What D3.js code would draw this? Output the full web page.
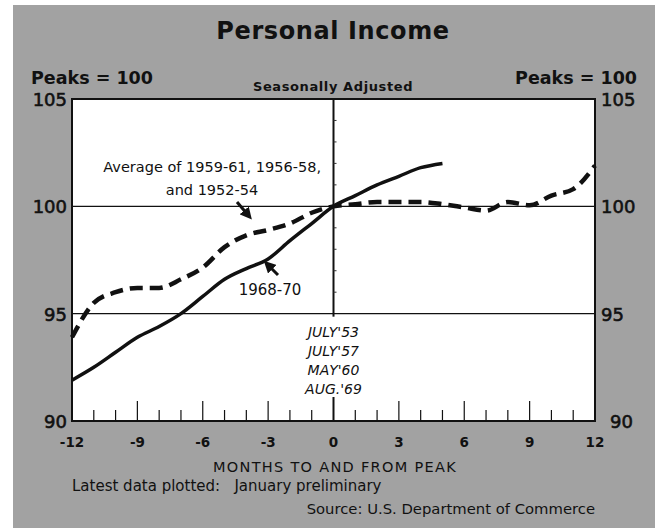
<!DOCTYPE html>
<html>
<head>
<meta charset="utf-8">
<script src="https://cdn.jsdelivr.net/npm/d3@7"></script>
<style>
  body { margin: 0; background: #fff; }
  svg { display: block; }
  text { font-family: "DejaVu Sans", sans-serif; fill: #111; }
</style>
</head>
<body>
<div id="chart"></div>
<script>
// months to and from peak
var months = [-12,-11,-10,-9,-8,-7,-6,-5,-4,-3,-2,-1,0,1,2,3,4,5,6,7,8,9,10,11,12];
// average of 1959-61, 1956-58 and 1952-54 (dashed)
var avgValues = [93.9,95.5,96.0,96.2,96.2,96.6,97.15,98.1,98.65,98.9,99.2,99.7,100,
                 100.1,100.2,100.2,100.2,100.1,99.95,99.8,100.2,100.05,100.5,100.8,101.9];
// 1968-70 (solid), ends 5 months after peak
var recentMonths = [-12,-11,-10,-9,-8,-7,-6,-5,-4,-3,-2,-1,0,1,2,3,4,5];
var recentValues = [91.9,92.5,93.2,93.9,94.4,95.0,95.8,96.6,97.1,97.55,98.4,99.2,100,
                    100.5,101.0,101.4,101.8,102.0];

var xTicks = [-12,-9,-6,-3,0,3,6,9,12];
var yTicks = [90,95,100,105];
var peakDates = ["JULY'53","JULY'57","MAY'60","AUG.'69"];

var W = 660, H = 531;
var plot = {left: 72, right: 595, top: 99, bottom: 421};

var x = d3.scaleLinear().domain([-12,12]).range([plot.left, plot.right]);
var y = d3.scaleLinear().domain([90,105]).range([plot.bottom, plot.top]);

var svg = d3.select("#chart").append("svg")
  .attr("width", W)
  .attr("height", H);

// gray panel
svg.append("rect")
  .attr("x", 13).attr("y", 5)
  .attr("width", 642).attr("height", 523)
  .attr("fill", "#a2a2a2");

// white plot area
svg.append("rect")
  .attr("x", plot.left).attr("y", plot.top)
  .attr("width", plot.right - plot.left).attr("height", plot.bottom - plot.top)
  .attr("fill", "#fff")
  .attr("stroke", "#111")
  .attr("stroke-width", 2);

// title and headers
svg.append("text")
  .attr("x", 333).attr("y", 39)
  .attr("text-anchor", "middle")
  .style("font-size", "24px").style("font-weight", "bold")
  .style("letter-spacing", "0.6px")
  .text("Personal Income");

svg.append("text")
  .attr("x", 31).attr("y", 84)
  .style("font-size", "17.5px").style("font-weight", "bold")
  .text("Peaks = 100");

svg.append("text")
  .attr("x", 637).attr("y", 84)
  .attr("text-anchor", "end")
  .style("font-size", "17.5px").style("font-weight", "bold")
  .text("Peaks = 100");

svg.append("text")
  .attr("x", 333).attr("y", 91)
  .attr("text-anchor", "middle")
  .style("font-size", "13px").style("font-weight", "bold")
  .style("letter-spacing", "0.6px")
  .text("Seasonally Adjusted");

// gridlines at 100 and 95
svg.append("g").selectAll("line")
  .data([95,100])
  .enter().append("line")
  .attr("x1", plot.left).attr("x2", plot.right)
  .attr("y1", function(d){ return y(d); })
  .attr("y2", function(d){ return y(d); })
  .attr("stroke", "#111").attr("stroke-width", 1.2);

// vertical line at the peak
svg.append("line")
  .attr("x1", x(0)).attr("x2", x(0))
  .attr("y1", plot.top).attr("y2", y(95) + 3)
  .attr("stroke", "#111").attr("stroke-width", 2);

// small ticks on the peak line
svg.append("g").selectAll("line")
  .data(d3.range(96,105))
  .enter().append("line")
  .attr("x1", x(0)).attr("x2", x(0) + 3)
  .attr("y1", function(d){ return y(d); })
  .attr("y2", function(d){ return y(d); })
  .attr("stroke", "#333").attr("stroke-width", 1);

// month ticks along the bottom
svg.append("g").selectAll("line")
  .data(months.filter(function(d){ return d > -12 && d < 12; }))
  .enter().append("line")
  .attr("x1", function(d){ return x(d); })
  .attr("x2", function(d){ return x(d); })
  .attr("y1", plot.bottom)
  .attr("y2", function(d){
    if (d === 0) return plot.bottom - 24;
    return d % 3 === 0 ? plot.bottom - 20 : plot.bottom - 11;
  })
  .attr("stroke", "#111")
  .attr("stroke-width", function(d){ return d === 0 ? 2 : 1.2; });

// y labels, both sides
var ylab = svg.append("g")
  .style("font-size", "18px")
  .style("stroke", "#111").style("stroke-width", "0.6px");
ylab.selectAll("text.l")
  .data(yTicks)
  .enter().append("text")
  .attr("class", "l")
  .attr("x", 67)
  .attr("y", function(d){ return y(d); })
  .attr("dy", "0.38em")
  .attr("text-anchor", "end")
  .text(function(d){ return d; });
ylab.selectAll("text.r")
  .data(yTicks)
  .enter().append("text")
  .attr("class", "r")
  .attr("x", function(d){ return d === 90 ? 610 : 601; })
  .attr("y", function(d){ return y(d); })
  .attr("dy", "0.38em")
  .text(function(d){ return d; });

// x tick labels
svg.append("g").selectAll("text")
  .data(xTicks)
  .enter().append("text")
  .attr("x", function(d){ return x(d); })
  .attr("y", 447)
  .attr("text-anchor", "middle")
  .style("font-size", "13.5px").style("font-weight", "bold")
  .text(function(d){ return d; });

svg.append("text")
  .attr("x", 335).attr("y", 472)
  .attr("text-anchor", "middle")
  .style("font-size", "14.5px")
  .style("letter-spacing", "1.3px")
  .text("MONTHS TO AND FROM PEAK");

svg.append("text")
  .attr("x", 72).attr("y", 491)
  .style("font-size", "15px")
  .attr("xml:space", "preserve")
  .text("Latest data plotted:   January preliminary");

svg.append("text")
  .attr("x", 595).attr("y", 514)
  .attr("text-anchor", "end")
  .style("font-size", "14.8px")
  .text("Source: U.S. Department of Commerce");

// peak dates
svg.append("g").selectAll("text")
  .data(peakDates)
  .enter().append("text")
  .attr("x", x(0))
  .attr("y", function(d, i){ return 337 + i * 19; })
  .attr("text-anchor", "middle")
  .style("font-size", "14px").style("font-style", "italic")
  .text(function(d){ return d; });

// series
var line = d3.line()
  .x(function(d){ return x(d[0]); })
  .y(function(d){ return y(d[1]); })
  .curve(d3.curveMonotoneX);

svg.append("path")
  .datum(d3.zip(recentMonths, recentValues))
  .attr("d", line)
  .attr("fill", "none")
  .attr("stroke", "#111")
  .attr("stroke-width", 3.5);

svg.append("path")
  .datum(d3.zip(months, avgValues))
  .attr("d", line)
  .attr("fill", "none")
  .attr("stroke", "#111")
  .attr("stroke-width", 4.5)
  .attr("stroke-dasharray", "13,7");

// annotations
svg.append("defs").append("marker")
  .attr("id", "arrow")
  .attr("viewBox", "0 0 10 10")
  .attr("refX", 5).attr("refY", 5)
  .attr("markerWidth", 4).attr("markerHeight", 4)
  .attr("orient", "auto")
  .append("path")
  .attr("d", "M0,0L10,5L0,10z")
  .attr("fill", "#111");

svg.append("text")
  .attr("x", 321).attr("y", 172)
  .attr("text-anchor", "end")
  .style("font-size", "14.5px")
  .text("Average of 1959-61, 1956-58,");
svg.append("text")
  .attr("x", 212).attr("y", 195)
  .attr("text-anchor", "middle")
  .style("font-size", "14.5px")
  .text("and 1952-54");

svg.append("line")
  .attr("x1", 237).attr("y1", 202)
  .attr("x2", 248).attr("y2", 215)
  .attr("stroke", "#111").attr("stroke-width", 3)
  .attr("marker-end", "url(#arrow)");

svg.append("text")
  .attr("x", 270).attr("y", 295)
  .attr("text-anchor", "middle")
  .style("font-size", "15px")
  .text("1968-70");

svg.append("line")
  .attr("x1", 278).attr("y1", 275)
  .attr("x2", 268).attr("y2", 265)
  .attr("stroke", "#111").attr("stroke-width", 3)
  .attr("marker-end", "url(#arrow)");
</script>
</body>
</html>
